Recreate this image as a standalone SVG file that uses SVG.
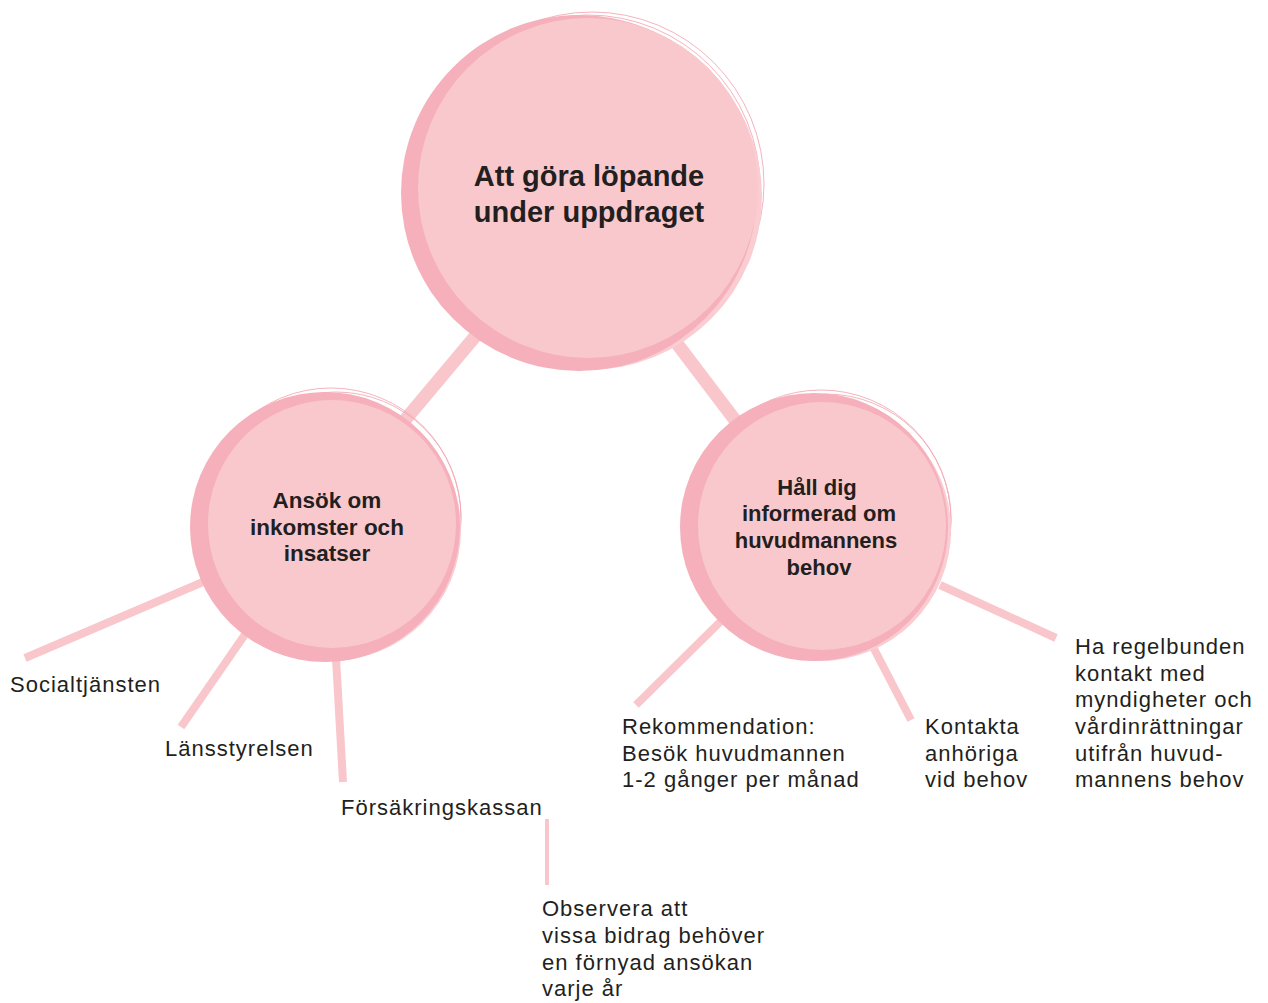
<svg xmlns="http://www.w3.org/2000/svg" width="1268" height="1003" viewBox="0 0 1268 1003">
<style>
.conn{stroke:#f8c6cb;fill:none;stroke-linecap:butt}
.thick{stroke-width:13}
.leafc{stroke-width:8}
.thin{stroke-width:4}
.shadow{fill:#f9cdd2}
.dark{fill:#f5b0bb}
.light{fill:#f9c8cc}
.sketch{fill:none;stroke:#f3aab6;stroke-width:0.9}
.title{font-family:"Liberation Sans",Arial,sans-serif;font-weight:bold;fill:#231f20;text-anchor:middle}
.leaf{font-family:"Liberation Sans",Arial,sans-serif;font-size:22px;letter-spacing:1px;fill:#231f20}
</style>
<rect width="1268" height="1003" fill="#ffffff"/>
<g id="connectors">
<line class="conn thick" x1="478" y1="333" x2="395" y2="432"/>
<line class="conn thick" x1="672" y1="337" x2="741" y2="428"/>
<line class="conn leafc" x1="203" y1="582" x2="25" y2="658"/>
<line class="conn leafc" x1="246" y1="633" x2="181" y2="727"/>
<line class="conn leafc" x1="336" y1="658" x2="343" y2="782"/>
<line class="conn thin" x1="547" y1="819" x2="547" y2="885"/>
<line class="conn leafc" x1="720" y1="622" x2="636" y2="705"/>
<line class="conn leafc" x1="872" y1="645" x2="911" y2="720"/>
<line class="conn leafc" x1="940" y1="585" x2="1056" y2="638"/>
</g>
<g id="node-main">
<circle class="sketch" cx="592" cy="184" r="172"/>
<circle class="sketch" cx="588" cy="187" r="172"/>
<circle class="shadow" cx="588" cy="196" r="174"/>
<circle class="dark" cx="579" cy="193" r="178"/>
<circle class="light" cx="588" cy="188" r="170"/>
<text class="title" font-size="29" x="589" y="186">Att göra löpande</text>
<text class="title" font-size="29" x="589" y="222">under uppdraget</text>
</g>
<g id="node-left">
<circle class="sketch" cx="331" cy="518" r="130"/>
<circle class="sketch" cx="336" cy="517" r="125"/>
<circle class="shadow" cx="330" cy="530" r="131"/>
<circle class="dark" cx="325" cy="527" r="135"/>
<circle class="light" cx="332" cy="524" r="124"/>
<text class="title" font-size="22.5" x="327" y="508">Ansök om</text>
<text class="title" font-size="22.5" x="327" y="535">inkomster och</text>
<text class="title" font-size="22.5" x="327" y="561">insatser</text>
</g>
<g id="node-right">
<circle class="sketch" cx="821" cy="520" r="130"/>
<circle class="sketch" cx="826" cy="519" r="125"/>
<circle class="shadow" cx="820" cy="530" r="131"/>
<circle class="dark" cx="814" cy="527" r="134"/>
<circle class="light" cx="822" cy="526" r="124"/>
<text class="title" font-size="22" x="817" y="495">Håll dig</text>
<text class="title" font-size="22" x="819" y="521">informerad om</text>
<text class="title" font-size="22" x="816" y="548">huvudmannens</text>
<text class="title" font-size="22" x="819" y="575">behov</text>
</g>
<g id="leaf-socialtjansten"><text class="leaf" x="10" y="692">Socialtjänsten</text></g>
<g id="leaf-lansstyrelsen"><text class="leaf" x="165" y="756">Länsstyrelsen</text></g>
<g id="leaf-forsakringskassan"><text class="leaf" x="341" y="815">Försäkringskassan</text></g>
<g id="leaf-observera"><text class="leaf" x="542">
<tspan x="542" y="916">Observera att</tspan>
<tspan x="542" y="943">vissa bidrag behöver</tspan>
<tspan x="542" y="970">en förnyad ansökan</tspan>
<tspan x="542" y="996">varje år</tspan>
</text></g>
<g id="leaf-rekommendation"><text class="leaf">
<tspan x="622" y="734">Rekommendation:</tspan>
<tspan x="622" y="761">Besök huvudmannen</tspan>
<tspan x="622" y="787">1-2 gånger per månad</tspan>
</text></g>
<g id="leaf-kontakta"><text class="leaf">
<tspan x="925" y="734">Kontakta</tspan>
<tspan x="925" y="761">anhöriga</tspan>
<tspan x="925" y="787">vid behov</tspan>
</text></g>
<g id="leaf-regelbunden"><text class="leaf">
<tspan x="1075" y="654">Ha regelbunden</tspan>
<tspan x="1075" y="681">kontakt med</tspan>
<tspan x="1075" y="707">myndigheter och</tspan>
<tspan x="1075" y="734">vårdinrättningar</tspan>
<tspan x="1075" y="761">utifrån huvud-</tspan>
<tspan x="1075" y="787">mannens behov</tspan>
</text></g>
</svg>
